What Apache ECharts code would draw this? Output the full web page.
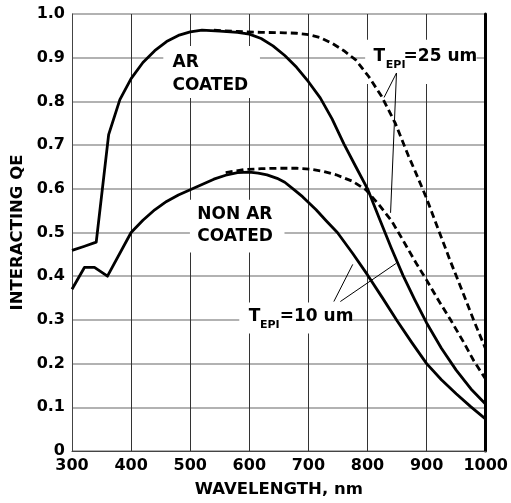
<!DOCTYPE html>
<html>
<head>
<meta charset="utf-8">
<script src="https://cdn.jsdelivr.net/npm/echarts@6/dist/echarts.min.js"></script>
<style>
html,body{margin:0;padding:0;background:#fff;}
#chart{width:511px;height:503px;}
</style>
</head>
<body>
<div id="chart"></div>
<script>
// ---- data ----
const xTicks = [300, 400, 500, 600, 700, 800, 900, 1000];
const yTicks = [0, 0.1, 0.2, 0.3, 0.4, 0.5, 0.6, 0.7, 0.8, 0.9, 1.0];

// AR coated, T_EPI = 10 um (solid)
const arCoated10 = [[300,0.459],[320,0.468],[341,0.478],[362,0.724],[381,0.804],[400,0.852],[420,0.889],[440,0.916],[460,0.937],[480,0.951],[500,0.959],[520,0.963],[550,0.961],[580,0.958],[600,0.954],[620,0.944],[640,0.927],[660,0.905],[680,0.878],[700,0.845],[720,0.808],[740,0.76],[760,0.703],[780,0.651],[800,0.60],[820,0.532],[840,0.465],[860,0.402],[880,0.346],[900,0.293],[925,0.235],[950,0.185],[975,0.142],[1000,0.107]];
// AR coated, T_EPI = 25 um (dashed)
const arCoated25 = [[540,0.963],[580,0.96],[620,0.958],[660,0.957],[680,0.956],[700,0.953],[720,0.946],[740,0.933],[760,0.916],[780,0.895],[802,0.857],[824,0.811],[847,0.75],[869,0.676],[880,0.642],[900,0.578],[920,0.506],[940,0.435],[960,0.367],[980,0.298],[1000,0.233]];
// Non AR coated, T_EPI = 10 um (solid)
const nonAr10 = [[300,0.37],[321,0.42],[338,0.42],[360,0.40],[400,0.50],[420,0.528],[440,0.552],[460,0.571],[480,0.586],[500,0.598],[520,0.61],[540,0.622],[560,0.631],[580,0.637],[600,0.638],[615,0.636],[630,0.632],[647,0.624],[660,0.615],[674,0.60],[690,0.582],[713,0.552],[730,0.527],[749,0.50],[775,0.452],[800,0.403],[825,0.351],[850,0.298],[875,0.248],[900,0.20],[925,0.163],[950,0.131],[975,0.101],[1000,0.073]];
// Non AR coated, T_EPI = 25 um (dashed)
const nonAr25 = [[560,0.637],[591,0.644],[620,0.646],[647,0.647],[680,0.647],[702,0.645],[725,0.64],[747,0.632],[775,0.617],[797,0.598],[819,0.564],[841,0.526],[858,0.487],[869,0.461],[884,0.426],[900,0.391],[920,0.345],[941,0.299],[963,0.248],[980,0.206],[1000,0.164]];

// leader lines (data coords)
const leader25 = [[[849,0.865],[828,0.809]], [[849,0.865],[839,0.545]]];
const leader10 = [[[743,0.342],[775,0.427]], [[754,0.342],[848,0.429]]];

// annotation texts: [text, wl, qe, size]
const annoTexts = [
  ['AR', 470, 0.888, 17], ['COATED', 470, 0.837, 17],
  ['NON AR', 512, 0.541, 17], ['COATED', 512, 0.49, 17],
  ['T', 810, 0.9025, 17], ['EPI', 831, 0.882, 11], ['=25 um', 861, 0.9025, 17],
  ['T', 599, 0.307, 17], ['EPI', 618, 0.288, 11], ['=10 um', 651.5, 0.307, 17]
];
// white boxes behind annotations: [wl0, qe0, wl1, qe1]
const annoBoxes = [[454.5,0.927,618,0.808],[499.5,0.575,659.5,0.454],[796,0.941,984.5,0.840],[583,0.340,774,0.269]];

const FONT = '"DejaVu Sans", Verdana, sans-serif';
const chart = echarts.init(document.getElementById('chart'), null, {renderer:'canvas'});

const lineSeries = (data, dashed) => ({
  type:'line', data:data, showSymbol:false, symbol:'none', smooth:false, z:3,
  lineStyle:{color:'#000', width:2.8, type: dashed ? [7,4] : 'solid', cap:'butt', join:'round'},
  animation:false
});

const option = {
  animation:false,
  backgroundColor:'#fff',
  grid:{left:72, right:19, top:14, bottom:51},
  xAxis:[{
    type:'value', min:300, max:1000, interval:100,
    axisLine:{show:true, lineStyle:{color:'#444', width:1}},
    axisTick:{show:false},
    axisLabel:{color:'#000', fontFamily:FONT, fontWeight:'bold', fontSize:16, margin:7,
      formatter: v => { const t = xTicks.find(k => Math.abs(k - v) < 1e-6); return t !== undefined ? String(t) : ''; }},
    splitLine:{show:true, lineStyle:{color:'#333', width:1}},
    name:'WAVELENGTH, nm', nameLocation:'middle', nameGap:30,
    nameTextStyle:{color:'#000', fontFamily:FONT, fontWeight:'bold', fontSize:16.5}
  }],
  yAxis:[{
    type:'value', min:0, max:1, interval:0.1,
    axisLine:{show:true, lineStyle:{color:'#444', width:1}},
    axisTick:{show:false},
    axisLabel:{color:'#000', fontFamily:FONT, fontWeight:'bold', fontSize:16, margin:7,
      formatter: v => { const t = yTicks.find(k => Math.abs(k - v) < 1e-6); return t === 0 ? '0' : (t !== undefined ? t.toFixed(1) : ''); }},
    splitLine:{show:true, lineStyle:{color:'#999', width:1.5}},
    name:'INTERACTING QE', nameLocation:'middle', nameGap:45,
    nameTextStyle:{color:'#000', fontFamily:FONT, fontWeight:'bold', fontSize:16.5}
  },{
    type:'value', min:0, max:1, interval:0.1, position:'right',
    axisLine:{show:true, lineStyle:{color:'#000', width:3}},
    axisTick:{show:false}, axisLabel:{show:false}, splitLine:{show:false}
  }],
  series:[
    lineSeries(arCoated10, false),
    lineSeries(arCoated25, true),
    lineSeries(nonAr10, false),
    lineSeries(nonAr25, true),
    {type:'lines', coordinateSystem:'cartesian2d', z:4, animation:false,
     lineStyle:{color:'#000', width:1, opacity:1},
     data: leader25.concat(leader10).map(c => ({coords:c}))}
  ]
};
chart.setOption(option);

function buildGraphics(){
  const els = [];
  annoBoxes.forEach(b => {
    const p0 = chart.convertToPixel({xAxisIndex:0, yAxisIndex:0}, [b[0], b[1]]);
    const p1 = chart.convertToPixel({xAxisIndex:0, yAxisIndex:0}, [b[2], b[3]]);
    els.push({type:'rect', z:1, silent:true,
      shape:{x:p0[0], y:p0[1], width:p1[0]-p0[0], height:p1[1]-p0[1]},
      style:{fill:'#fff'}});
  });
  annoTexts.forEach(t => {
    const p = chart.convertToPixel({xAxisIndex:0, yAxisIndex:0}, [t[1], t[2]]);
    els.push({type:'text', z:5, silent:true, x:p[0], y:p[1],
      style:{text:t[0], fill:'#000', font:'bold ' + t[3] + 'px ' + FONT,
        textAlign:'left', textVerticalAlign:'middle'}});
  });
  return els;
}
chart.setOption({graphic:{elements: buildGraphics()}});
</script>
</body>
</html>
